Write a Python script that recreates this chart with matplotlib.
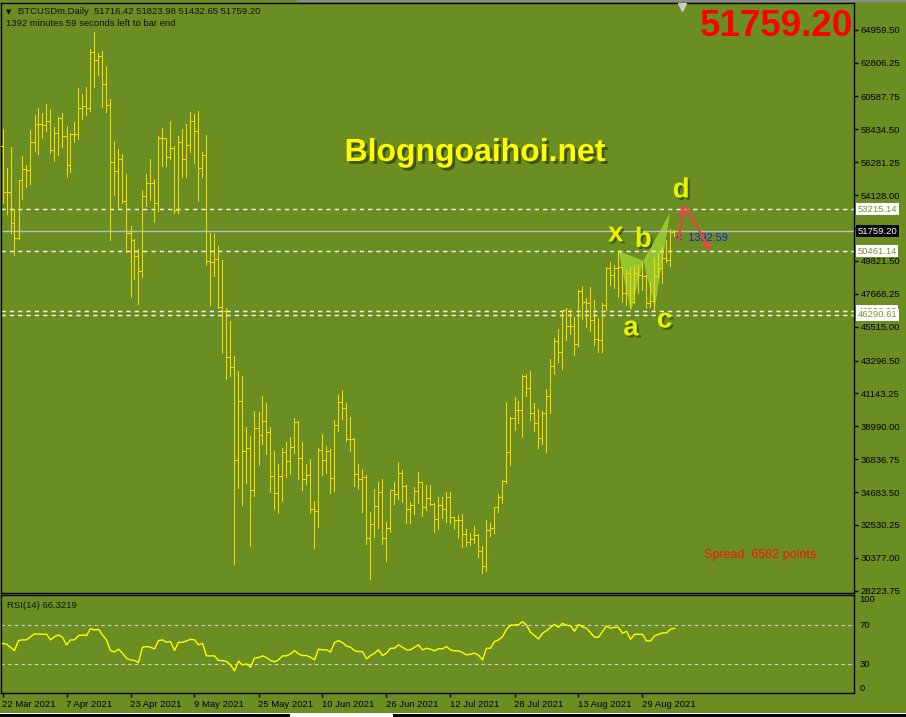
import numpy as np
import pandas as pd
import matplotlib
matplotlib.use("Agg")
import matplotlib.pyplot as plt
from matplotlib import patheffects, transforms
from matplotlib.patches import Rectangle

plt.rcParams['font.family'] = ['Liberation Sans', 'DejaVu Sans']

# daily BTCUSDm bars, 22 Mar 2021 .. 6 Sep 2021
start_date = "2021-03-22"
opens = [57350, 54300, 54350, 52300, 51300, 55100, 55810, 55800, 57580, 58760,
         58760, 58700, 58950, 57060, 58200, 59150, 58020, 56070, 58100, 58100,
         59810, 59960, 59810, 63480, 62950, 63220, 61380, 60030, 56270, 55700,
         56470, 53740, 51620, 51190, 50140, 49160, 54050, 54940, 54940, 53610,
         57840, 57890, 56640, 57230, 53170, 57580, 56470, 57390, 58960, 58330,
         55880, 56730, 49830, 49730, 49920, 46780, 46560, 43550, 42890, 36780,
         40640, 37390, 37550, 34820, 38860, 38420, 39340, 38620, 35710, 34600,
         35730, 37280, 36720, 37610, 39250, 36890, 35540, 35800, 33550, 33440,
         37440, 36780, 37370, 35600, 39070, 40580, 40190, 38160, 38160, 35840,
         35540, 35690, 31650, 32590, 33770, 34680, 31650, 32310, 34820, 34550,
         35910, 35080, 33550, 33810, 34750, 35340, 33720, 34290, 33880, 32920,
         33810, 33590, 34360, 33070, 32830, 32830, 31940, 31430, 31610, 31870,
         30840, 29840, 32200, 32350, 33680, 34340, 35430, 37280, 39550, 40030,
         40030, 42280, 41520, 39880, 39210, 38200, 39840, 40970, 42920, 44600,
         43830, 46580, 45580, 45560, 44360, 47830, 47130, 47040, 45970, 44680,
         44660, 46930, 49330, 48900, 49330, 49440, 47700, 49010, 47150, 49010,
         48900, 48800, 47050, 47200, 48800, 49330, 50030, 49900, 51716.42]
highs = [58450, 55900, 57280, 53240, 55120, 56690, 56100, 58390, 59370, 59830,
         59520, 60090, 59780, 58600, 59260, 59500, 58650, 58170, 58910, 61140,
         60750, 61200, 63700, 64810, 63450, 63560, 62580, 60420, 57690, 57140,
         56820, 55510, 52100, 51260, 50600, 54460, 55510, 56490, 55200, 57980,
         58520, 57900, 58980, 57340, 57980, 58480, 58780, 59550, 59440, 59660,
         56930, 58040, 51620, 51580, 50800, 49880, 46710, 45880, 43590, 42610,
         42280, 38940, 38350, 39990, 39920, 40970, 40530, 38940, 37390, 36520,
         37570, 37960, 38290, 39530, 39330, 37960, 36520, 36850, 34100, 37540,
         38480, 37700, 37520, 39400, 41040, 41370, 40510, 39600, 38220, 36520,
         36190, 35780, 33370, 34880, 35340, 35540, 32720, 34820, 35340, 36650,
         36130, 35120, 34030, 35010, 35990, 35340, 35120, 35120, 33940, 34340,
         34340, 34690, 34660, 33070, 33160, 33240, 32240, 31980, 32440, 31940,
         31130, 32850, 32630, 33700, 34550, 35470, 40580, 39600, 40910, 40620,
         42350, 42390, 42610, 40490, 40120, 39990, 41410, 43400, 44750, 45340,
         46610, 46740, 46650, 46170, 47910, 48180, 47410, 48090, 47260, 46080,
         47060, 49400, 49770, 49550, 50530, 49440, 49220, 49440, 49480, 49550,
         49770, 48900, 48350, 49990, 50310, 50750, 51190, 51890, 51823.98]
lows = [53630, 52870, 51620, 50230, 51250, 53880, 54680, 54850, 57000, 56800,
        57900, 58330, 56860, 56380, 56750, 57300, 55330, 55660, 57620, 57800,
        59130, 59390, 59660, 61230, 61990, 59920, 59600, 51190, 54150, 53260,
        53600, 50380, 47480, 48650, 47020, 48780, 53430, 53830, 52340, 53080,
        56050, 56050, 56470, 52980, 52930, 55320, 55300, 56970, 56210, 53760,
        55330, 49530, 46930, 48850, 46720, 43810, 42110, 42300, 29950, 34970,
        33860, 35300, 31170, 34440, 36470, 37830, 37170, 34710, 33590, 33330,
        34120, 35690, 35890, 37220, 35560, 34840, 35210, 33330, 31040, 32420,
        35820, 35950, 34640, 34770, 38700, 39490, 38050, 37390, 35100, 34860,
        33370, 31260, 28970, 31740, 32350, 31300, 30190, 32040, 33880, 34250,
        34010, 32680, 32680, 33270, 33940, 33130, 33530, 33810, 32090, 32290,
        33010, 32700, 32680, 32240, 31650, 31100, 31130, 31190, 31370, 30410,
        29360, 29530, 31780, 32020, 33400, 33940, 35250, 36430, 38770, 39200,
        38310, 40990, 39400, 38700, 37590, 37830, 37280, 39880, 42430, 43200,
        42760, 44620, 45050, 43680, 44270, 46040, 45490, 45230, 44290, 43880,
        43860, 46600, 48240, 48020, 47480, 47150, 46930, 46710, 47040, 47700,
        47910, 46710, 46820, 46600, 48780, 48400, 49770, 49500, 51432.65]
closes = [54300, 54350, 52300, 51300, 55100, 55810, 55800, 57580, 58760, 58760,
          58700, 58950, 57060, 58200, 59150, 58020, 56070, 58100, 58100, 59810,
          59960, 59810, 63480, 62950, 63220, 61380, 60030, 56270, 55700, 56470,
          53740, 51620, 51190, 50140, 49160, 54050, 54940, 54940, 53610, 57840,
          57890, 56640, 57230, 53170, 57580, 56470, 57390, 58960, 58330, 55880,
          56730, 49830, 49730, 49920, 46780, 46560, 43550, 42890, 36780, 40640,
          37390, 37550, 34820, 38860, 38420, 39340, 38620, 35710, 34600, 35730,
          37280, 36720, 37610, 39250, 36890, 35540, 35800, 33550, 33440, 37440,
          36780, 37370, 35600, 39070, 40580, 40190, 38160, 38160, 35840, 35540,
          35690, 31650, 32590, 33770, 34680, 31650, 32310, 34820, 34550, 35910,
          35080, 33550, 33810, 34750, 35340, 33720, 34290, 33880, 32920, 33810,
          33590, 34360, 33070, 32830, 32830, 31940, 31430, 31610, 31870, 30840,
          29840, 32200, 32350, 33680, 34340, 35430, 37280, 39550, 40030, 40030,
          42280, 41520, 39880, 39210, 38200, 39840, 40970, 42920, 44600, 43830,
          46580, 45580, 45560, 44360, 47830, 47130, 47040, 45970, 44680, 44660,
          46930, 49330, 48900, 49330, 49440, 47700, 49010, 47150, 49010, 48900,
          48800, 47050, 47200, 48800, 49330, 50030, 49900, 51700, 51759.20]
rsi = [51.0, 50.0, 47.0, 43.6, 53.8, 54.5, 54.5, 57.8, 60.5, 60.5,
       60.2, 60.5, 54.5, 57.8, 59.5, 57.2, 49.4, 54.5, 54.5, 58.9,
       59.5, 58.9, 66.0, 64.6, 65.3, 59.5, 54.5, 43.6, 42.2, 45.0,
       40.9, 35.8, 34.1, 33.4, 31.4, 47.0, 47.7, 47.0, 45.3, 53.8,
       54.5, 52.1, 52.8, 43.6, 52.0, 52.0, 53.4, 55.1, 54.5, 49.4,
       51.0, 38.2, 38.2, 38.2, 33.4, 33.4, 32.4, 29.0, 23.0, 32.8,
       29.0, 30.0, 26.7, 35.8, 36.5, 38.2, 36.5, 33.4, 32.1, 34.1,
       38.2, 38.2, 40.2, 43.6, 40.2, 38.5, 38.5, 36.8, 34.1, 45.0,
       44.3, 44.3, 42.2, 51.7, 53.8, 51.7, 48.3, 47.0, 43.6, 42.6,
       42.6, 35.1, 38.5, 40.9, 44.3, 38.5, 40.9, 46.0, 46.0, 49.4,
       47.0, 44.3, 44.3, 47.0, 49.4, 44.3, 46.0, 45.0, 43.3, 45.6,
       45.3, 47.7, 44.3, 43.3, 43.3, 41.6, 39.2, 39.9, 40.9, 38.9,
       34.1, 46.0, 46.0, 52.8, 54.5, 57.8, 65.3, 69.4, 69.7, 70.0,
       73.1, 69.7, 62.2, 58.9, 55.5, 61.2, 63.9, 67.3, 70.4, 67.3,
       71.4, 69.4, 69.0, 63.3, 70.4, 67.7, 66.3, 61.9, 57.2, 57.2,
       62.9, 68.7, 66.3, 67.3, 67.3, 61.2, 63.3, 55.1, 60.2, 60.2,
       60.2, 53.4, 53.4, 58.5, 60.2, 61.6, 61.6, 65.3, 66.3219]

# 51974.75 sits under the current price box, so its label is left blank
price_ticks = [64959.50, 62806.25, 60587.75, 58434.50, 56281.25, 54128.00, 51974.75,
               49821.50, 47668.25, 45515.00, 43296.50, 41143.25, 38990.00, 36836.75,
               34683.50, 32530.25, 30377.00, 28223.75]
hidden_tick = 51974.75
level_lines = [53215.14, 50461.14, 46536.33, 46290.61]
rsi_levels = [70, 30]
rsi_ticks = [100, 70, 30, 0]

# harmonic pattern x-a-b-c-d (bar index, price)
pat_names = ['x', 'a', 'b', 'c', 'd']
pat_x = [154.0, 157.1, 160.2, 163.1, 166.9]
pat_y = [50468, 46494, 49833, 46736, 52976]
# projected move arrows
arrow_x = [168.9, 170.4, 177.3]
arrow_y = [50930, 53590, 50320]
shift_bar = 169.8

bg = '#6B8E23'
bar_col = '#FFD700'
W, H = 906, 717
px = 72.0 / 100


def rect(x0, y0, x1, y1):  # pixel box -> figure fraction
    return [x0 / W, 1 - y1 / H, (x1 - x0) / W, (y1 - y0) / H]


fig = plt.figure(figsize=(W / 100, H / 100), dpi=100, facecolor=bg)
ax = fig.add_axes(rect(0.6, 2.7, 854, 593.3))
ax2 = fig.add_axes(rect(0.6, 595.3, 854, 693.3))
for a in (ax, ax2):
    a.set_facecolor(bg)
    for s in a.spines.values():
        s.set_color('black')
        s.set_linewidth(1)
    a.set_xlim(-0.475, 212.875)

n = len(closes)
idx = np.arange(n)
dates = pd.date_range(start_date, periods=n, freq='D')

# price panel
ax.set_ylim(28055, 66727)
ax.vlines(idx, lows, highs, colors=bar_col, linewidth=px, antialiased=False, zorder=3)
ax.hlines(opens, idx - 0.3, idx, colors=bar_col, linewidth=px, antialiased=False, zorder=3)
ax.hlines(closes, idx, idx + 0.3, colors=bar_col, linewidth=px, antialiased=False, zorder=3)

for lv in level_lines:
    ax.axhline(lv, color='white', lw=1, ls=(0, (3, 3)), zorder=2)
ax.axhline(closes[-1], color='#C0C0C0', lw=1, zorder=2)

ax.set_xticks([])
ax.yaxis.tick_right()
ax.set_yticks(price_ticks)
ax.set_yticklabels(['' if v == hidden_tick else '%.2f' % v for v in price_ticks])
ax.tick_params(axis='y', length=3, width=1, pad=2, labelsize=6.8, colors='black')

tr = transforms.blended_transform_factory(ax.transAxes, ax.transData)
for lv in level_lines:
    ax.text(1.004, lv, '%.2f' % lv, transform=tr, va='center', ha='left', fontsize=6.8,
            color='#7F8F3A', zorder=6,
            bbox=dict(boxstyle='square,pad=0.18', fc='white', ec='none'))
ax.text(1.004, closes[-1], '%.2f' % closes[-1], transform=tr, va='center', ha='left',
        fontsize=6.8, color='white', zorder=7,
        bbox=dict(boxstyle='square,pad=0.18', fc='black', ec='none'))

# pattern
ax.fill(pat_x[0:3], pat_y[0:3], color='#9ACD32', alpha=0.9, lw=0, zorder=1)
ax.fill(pat_x[2:5], pat_y[2:5], color='#9ACD32', alpha=0.9, lw=0, zorder=1)
shadow = [patheffects.withSimplePatchShadow(offset=(1.5, -1.5), shadow_rgbFace='#2a3a10', alpha=0.6)]
offs = {'x': (-2, 12), 'a': (0, -12), 'b': (0, 15), 'c': (7, -9), 'd': (8, 16)}
for name, xx, yy in zip(pat_names, pat_x, pat_y):
    ax.annotate(name, (xx, yy), xytext=offs[name], textcoords='offset points',
                ha='center', va='center', fontsize=20, fontweight='bold',
                color='#E8F400', zorder=8, path_effects=shadow)

ax.annotate('', xy=(arrow_x[1], arrow_y[1]), xytext=(arrow_x[0], arrow_y[0]),
            arrowprops=dict(arrowstyle='-|>', color='#F04040', lw=1.6, mutation_scale=9), zorder=9)
ax.annotate('', xy=(arrow_x[2], arrow_y[2]), xytext=(arrow_x[1], arrow_y[1]),
            arrowprops=dict(arrowstyle='-|>', color='#F04040', lw=1.6, mutation_scale=9), zorder=9)

ax.annotate('<  1392:59', (n - 0.7, closes[-1]), xytext=(0, -4.5), textcoords='offset points',
            ha='left', va='center', fontsize=7.8, color='#1818F0', zorder=8)

ax.text(0.556, 0.7455, 'Blogngoaihoi.net', transform=ax.transAxes, ha='center', va='center',
        fontsize=23, fontweight='bold', color='#FFFF00', zorder=8,
        path_effects=[patheffects.withSimplePatchShadow(offset=(2, -2), shadow_rgbFace='#303a10', alpha=0.7)])

ax.text(0.8245, 0.0655, 'Spread: 6582 points.', transform=ax.transAxes, ha='left', va='center',
        fontsize=9, color='#FF1010', zorder=8)

ax.plot([shift_bar], [0.992], marker='v', color='#C8C8C8', markersize=6,
        transform=transforms.blended_transform_factory(ax.transData, ax.transAxes),
        clip_on=False, zorder=9)

# RSI panel
ax2.set_ylim(0, 100)
ax2.plot(idx, rsi, color='#FFFF00', lw=1, zorder=3)
for lv in rsi_levels:
    ax2.axhline(lv, color='#D0D0D0', lw=0.8, ls=(0, (3, 3)), zorder=2)
ax2.yaxis.tick_right()
ax2.set_yticks(rsi_ticks)
ax2.set_yticklabels([str(v) for v in rsi_ticks])
ax2.tick_params(axis='y', length=0, pad=4, labelsize=6.8, colors='black')
labs = ax2.get_yticklabels()
labs[0].set_va('top')
labs[-1].set_va('bottom')
tick_pos = idx[::16]
ax2.set_xticks(tick_pos)
ax2.set_xticklabels(['%d %s' % (d.day, d.strftime('%b %Y')) for d in dates[::16]])
ax2.tick_params(axis='x', length=3, width=1, pad=1.5, labelsize=6.8, colors='black')
for lab in ax2.get_xticklabels():
    lab.set_ha('left')
ax2.text(6 / 854, 0.9, 'RSI(14) %.4f' % rsi[-1], transform=ax2.transAxes, ha='left',
         va='center', fontsize=6.8, color='#111111')

# header texts
fig.text(6 / W, 1 - 12 / H, '\u25bc', fontsize=5, color='#111111', va='center', family='DejaVu Sans')
fig.text(18 / W, 1 - 12 / H, 'BTCUSDm,Daily  %.2f %.2f %.2f %.2f' % (opens[-1], highs[-1], lows[-1], closes[-1]),
         fontsize=6.8, color='#111111', va='center')
fig.text(6 / W, 1 - 24 / H, '1392 minutes 59 seconds left to bar end', fontsize=6.8,
         color='#111111', va='center')
fig.text(853 / W, 1 - 27 / H, '%.2f' % closes[-1], fontsize=26.5, fontweight='bold',
         color='#FF0000', ha='right', va='center')

# window chrome
fig.add_artist(Rectangle((297 / W, 1 - 2 / H), 1, 2 / H, transform=fig.transFigure,
                         fc='#8C8C8C', ec='none'))
fig.add_artist(Rectangle((0, 0), 1, 4 / H, transform=fig.transFigure, fc='black', ec='none'))
fig.add_artist(Rectangle((0, 3 / H), 1, 1.5 / H, transform=fig.transFigure, fc='white', ec='none'))
fig.add_artist(Rectangle((290 / W, 0), 103 / W, 4 / H, transform=fig.transFigure, fc='white', ec='none'))

fig.savefig('out.png', dpi=100, facecolor=bg)
